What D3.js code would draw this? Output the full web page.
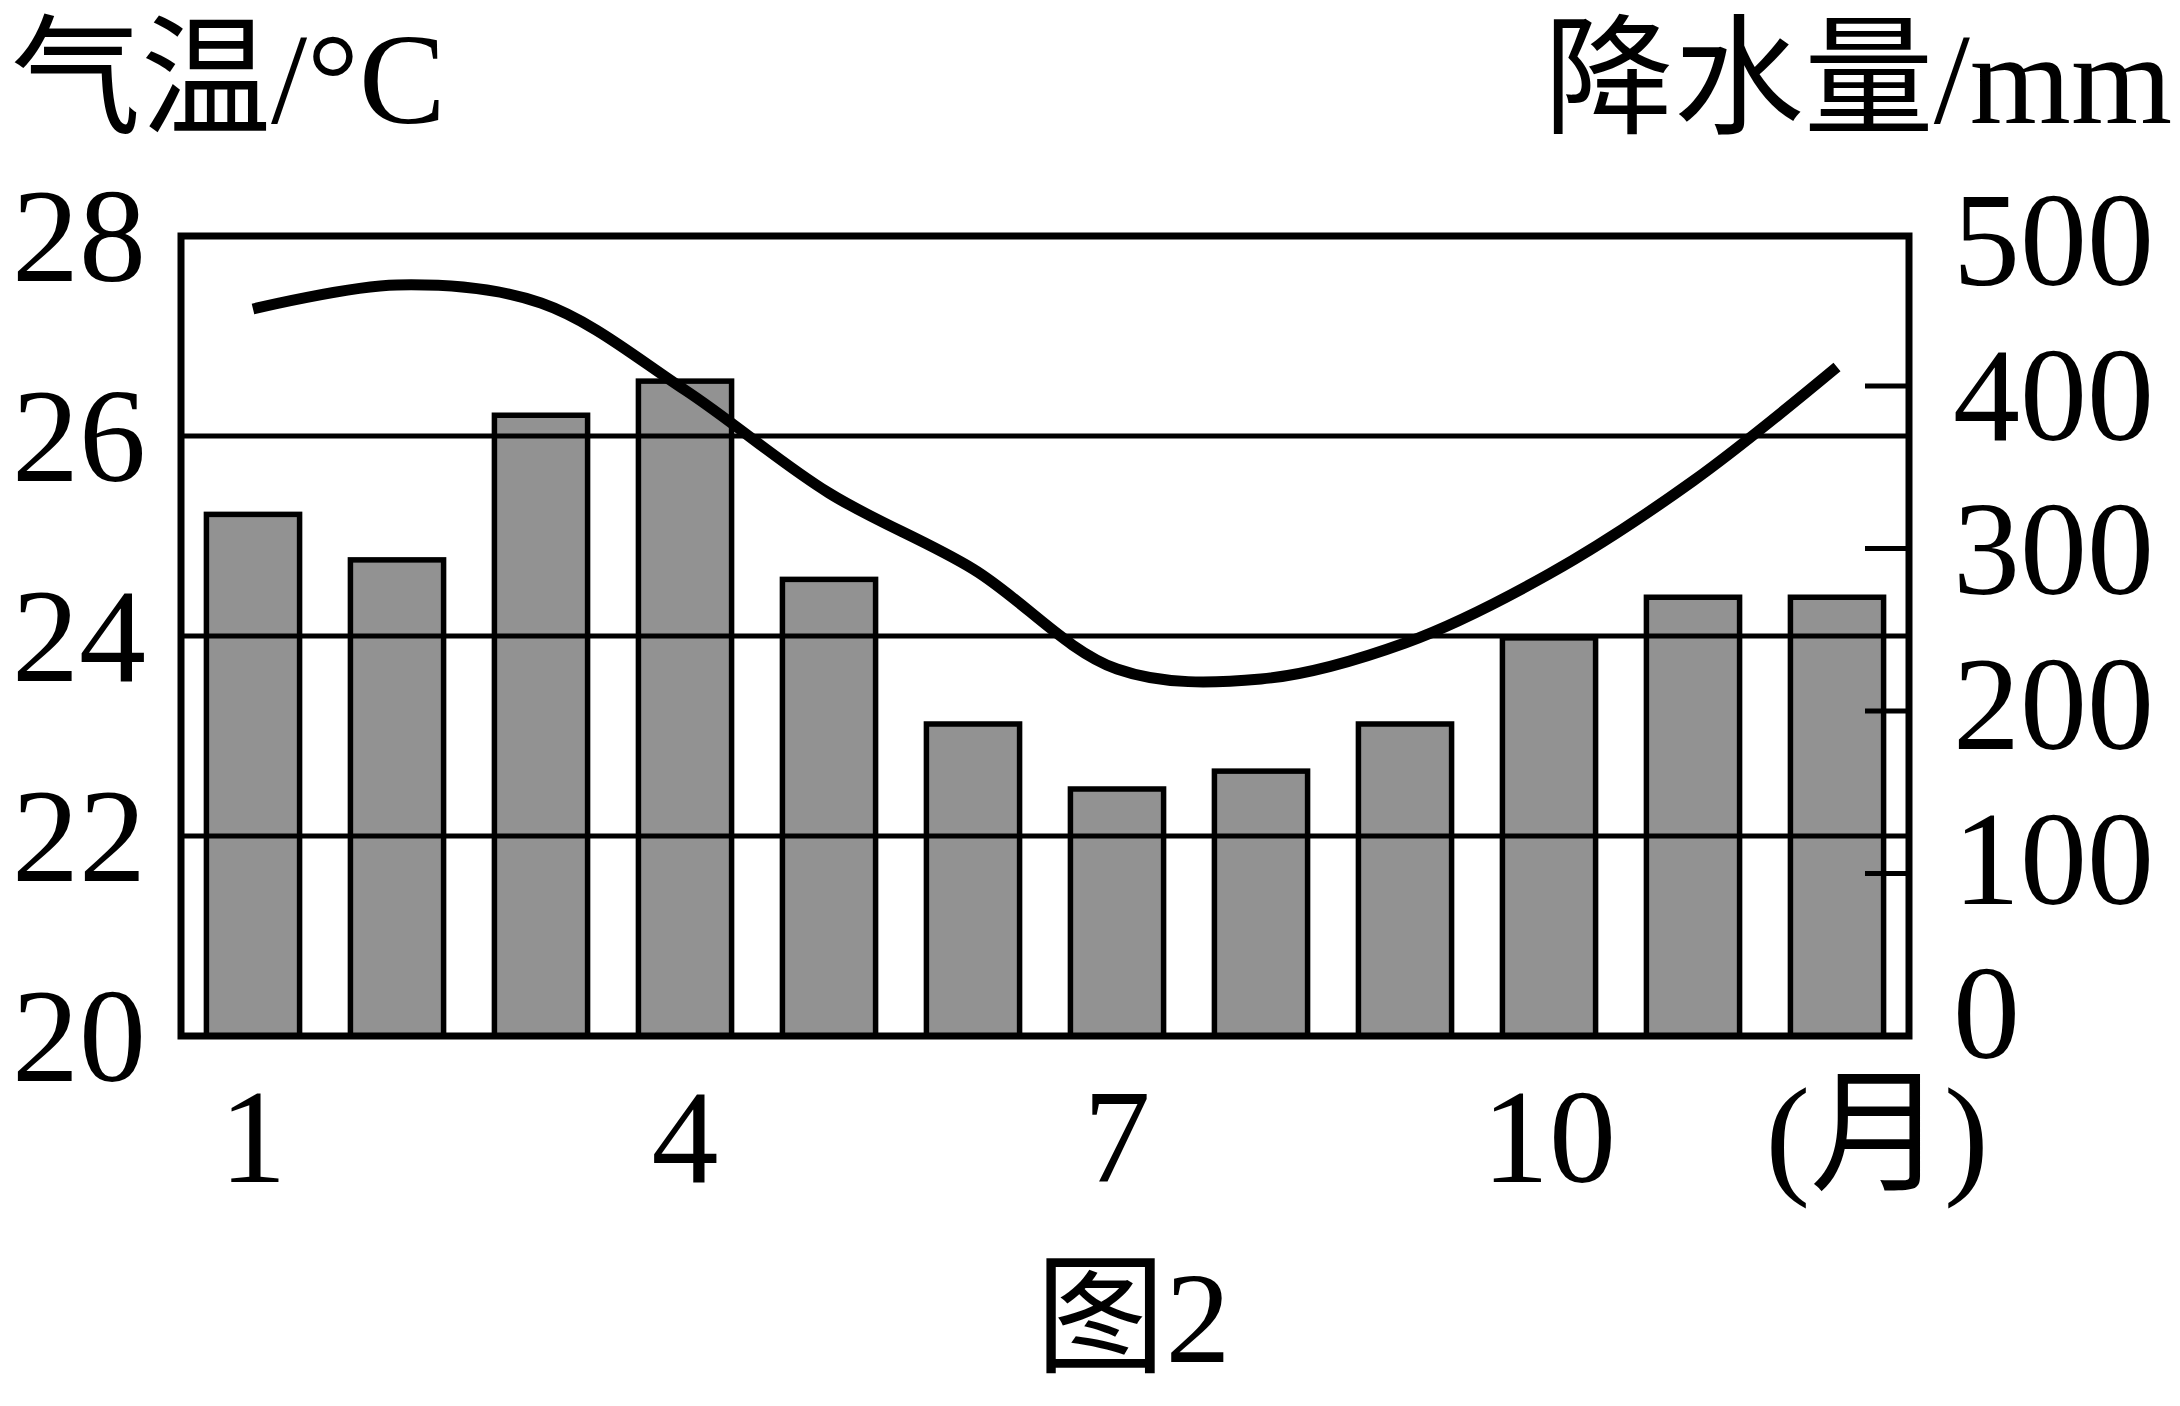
<!DOCTYPE html>
<html>
<head>
<meta charset="utf-8">
<script src="https://cdn.jsdelivr.net/npm/d3@7"></script>
<style>
  html, body { margin: 0; padding: 0; background: #fff; }
  svg { display: block; }
  text { font-family: "Liberation Serif", "Noto Sans CJK SC", serif; fill: #000; }
</style>
</head>
<body>
<script>
// ---- data ----
const months = [1, 2, 3, 4, 5, 6, 7, 8, 9, 10, 11, 12];
const precipitation = [321, 293, 382, 403, 281, 192, 152, 163, 192, 245, 270, 270];
const temperature = [27.27, 27.51, 27.33, 26.46, 25.43, 24.67, 23.67, 23.57, 23.93, 24.62, 25.55, 26.69];
const tempTicks = [20, 22, 24, 26, 28];
const tempGrid = [22, 24, 26];
const precipTicks = [100, 200, 300, 400];
const precipLabels = [0, 100, 200, 300, 400, 500];
const monthLabels = [1, 4, 7, 10];

// ---- layout ----
const W = 2180, H = 1406;
const L = 181, R = 1909, T = 236, B = 1036;

const svg = d3.select("body").append("svg").attr("width", W).attr("height", H);

const x = d3.scaleBand().domain(months).range([L, R]).paddingInner(0.353).paddingOuter(0.1765);
const yT = d3.scaleLinear().domain([20, 28]).range([B, T]);
const yP = d3.scaleLinear().domain([0, 400]).range([B, 386]);
const yPLabel = d3.scaleLinear().domain([0, 500]).range([1013, 240]);

// bars
svg.append("g").selectAll("rect").data(months).join("rect")
  .attr("x", d => x(d))
  .attr("y", (d, i) => yP(precipitation[i]))
  .attr("width", x.bandwidth())
  .attr("height", (d, i) => B - yP(precipitation[i]))
  .attr("fill", "#929292")
  .attr("stroke", "#000")
  .attr("stroke-width", 5.5);

// grid lines
svg.append("g").selectAll("line").data(tempGrid).join("line")
  .attr("x1", L).attr("x2", R)
  .attr("y1", d => yT(d)).attr("y2", d => yT(d))
  .attr("stroke", "#000").attr("stroke-width", 5);

// right inner ticks
svg.append("g").selectAll("line").data(precipTicks).join("line")
  .attr("x1", R - 44).attr("x2", R)
  .attr("y1", d => yP(d)).attr("y2", d => yP(d))
  .attr("stroke", "#000").attr("stroke-width", 5);

// frame
svg.append("rect")
  .attr("x", L).attr("y", T).attr("width", R - L).attr("height", B - T)
  .attr("fill", "none").attr("stroke", "#000").attr("stroke-width", 7);

// temperature curve
const line = d3.line()
  .x((d, i) => x(months[i]) + x.bandwidth() / 2)
  .y(d => yT(d))
  .curve(d3.curveCatmullRom.alpha(0.5));
svg.append("path").datum(temperature)
  .attr("d", line)
  .attr("fill", "none").attr("stroke", "#000").attr("stroke-width", 11)
  .attr("stroke-linecap", "butt");

const FS = 134;
// left labels
svg.append("g").selectAll("text").data(tempTicks).join("text")
  .attr("x", 146).attr("y", d => yT(d) + 0.338 * FS)
  .attr("text-anchor", "end").attr("font-size", FS)
  .text(d => d);

// right labels
svg.append("g").selectAll("text").data(precipLabels).join("text")
  .attr("x", 1953).attr("y", d => yPLabel(d) + 0.338 * FS)
  .attr("text-anchor", "start").attr("font-size", FS)
  .text(d => d);

// month labels
svg.append("g").selectAll("text").data(monthLabels).join("text")
  .attr("x", d => x(d) + x.bandwidth() / 2).attr("y", 1182)
  .attr("text-anchor", "middle").attr("font-size", FS)
  .text(d => d);

svg.append("text")
  .attr("x", x(12) + x.bandwidth() / 2 + 40).attr("y", 1180)
  .attr("text-anchor", "middle").attr("font-size", FS)
  .text("(月)");

// axis titles
svg.append("text").attr("x", 11).attr("y", 123).attr("font-size", 130)
  .attr("text-anchor", "start").text("气温/°C");
svg.append("text").attr("x", 2172).attr("y", 123).attr("font-size", 130)
  .attr("text-anchor", "end").text("降水量/mm");

// caption
svg.append("text").attr("x", 1133).attr("y", 1362).attr("font-size", 130)
  .attr("text-anchor", "middle").text("图2");
</script>
</body>
</html>
